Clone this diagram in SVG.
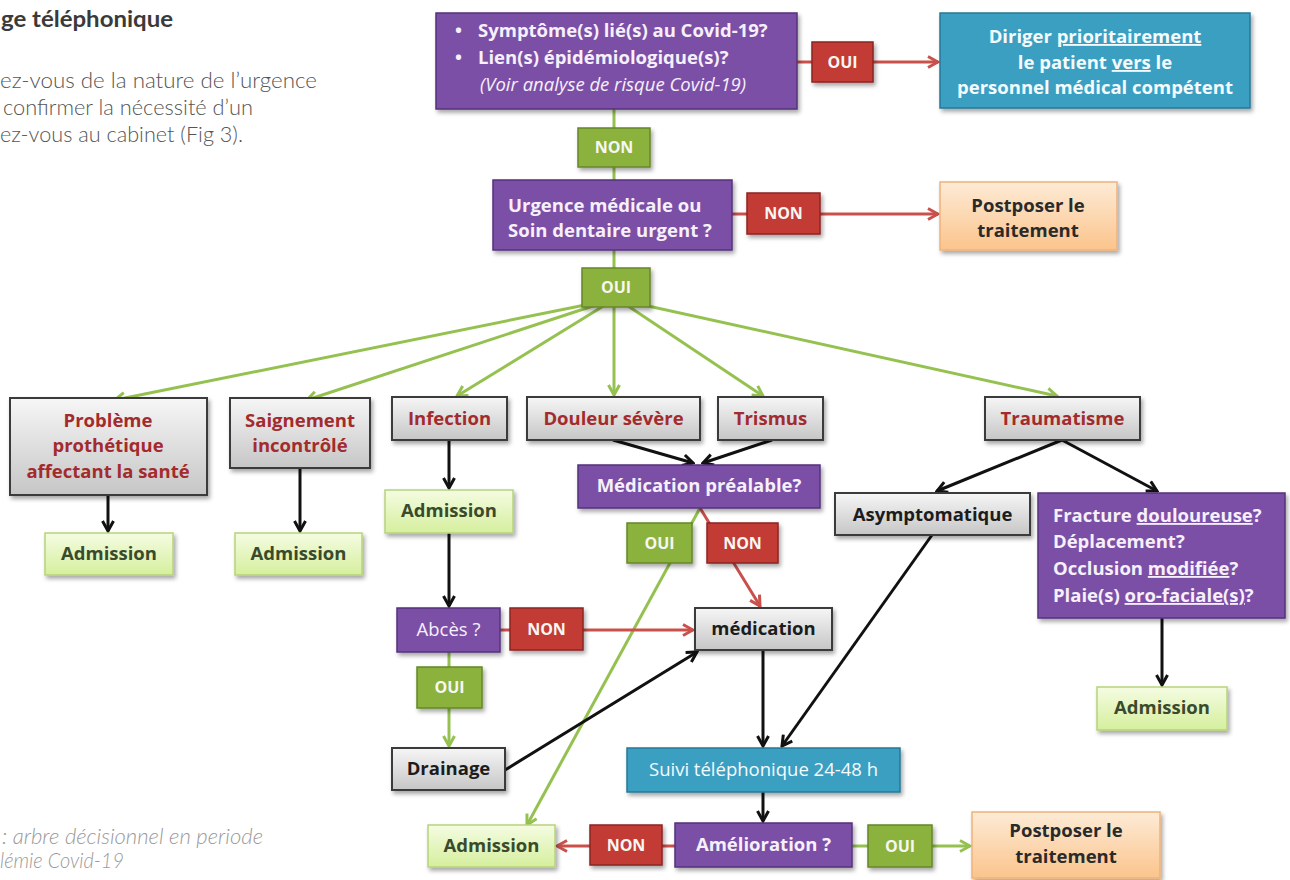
<svg xmlns="http://www.w3.org/2000/svg" width="1290" height="880" viewBox="0 0 1290 880">
  <defs>
    <style>
      .prose { font-family: Lato, "Liberation Sans", sans-serif; }
      .h { font-size: 22px; font-weight: 700; fill: #3a3a3a; }
      .body { font-size: 22px; font-weight: 300; fill: #555; }
      .cap { font-size: 21px; font-weight: 300; font-style: italic; fill: #9a9a9a; }
      .node text { font-family: "Open Sans", "Liberation Sans", sans-serif; font-weight: 700; font-size: 18.5px; }
      .node rect { filter: url(#shadow); stroke-width: 1.5; }
      .purple rect { fill: #7b4fa6; stroke: #54307c; }
      .purple text { fill: #f6f0fb; }
      .teal rect { fill: #3a9fc2; stroke: #277896; }
      .teal text { fill: #f4fbfd; }
      .grey rect { fill: url(#gGrey); stroke: #3a3a3a; stroke-width: 2; }
      .grey text { fill: #1c1c1c; }
      .cat text { fill: #a32b2d; }
      .adm rect { fill: url(#gAdm); stroke: #b6d47a; }
      .adm text { fill: #3a4a2c; }
      .org rect { fill: url(#gOrg); stroke: #efb27b; }
      .org text { fill: #2a2a2a; }
      .yes rect { fill: #8bb23c; stroke: #66862a; }
      .no rect { fill: #c23b36; stroke: #8c2521; }
      .yes text, .no text { fill: #f7f7f2; font-size: 16px; }
      .reg { font-weight: 400 !important; }
      .ul { text-decoration: underline; }
      .k { stroke: #111; stroke-width: 3; fill: none; }
      .g { stroke: #95c150; stroke-width: 3; fill: none; }
      .r { stroke: #c9504b; stroke-width: 3; fill: none; }
    </style>
    <filter id="shadow" x="-10%" y="-10%" width="125%" height="140%">
      <feDropShadow dx="2" dy="3" stdDeviation="2" flood-color="#000" flood-opacity="0.35"/>
    </filter>
    <linearGradient id="gGrey" x1="0" y1="0" x2="0" y2="1">
      <stop offset="0" stop-color="#f6f6f6"/>
      <stop offset="1" stop-color="#c6c6c6"/>
    </linearGradient>
    <linearGradient id="gAdm" x1="0" y1="0" x2="0" y2="1">
      <stop offset="0" stop-color="#f5fce2"/>
      <stop offset="1" stop-color="#d5ef9d"/>
    </linearGradient>
    <linearGradient id="gOrg" x1="0" y1="0" x2="0" y2="1">
      <stop offset="0" stop-color="#fdebd6"/>
      <stop offset="1" stop-color="#fbc48c"/>
    </linearGradient>
    <marker id="ak" viewBox="0 0 14 14" refX="12" refY="7" markerWidth="14" markerHeight="14" markerUnits="userSpaceOnUse" orient="auto">
      <path d="M2,1.5 L12,7 L2,12.5" fill="none" stroke="#111" stroke-width="3"/>
    </marker>
    <marker id="ag" viewBox="0 0 14 14" refX="12" refY="7" markerWidth="14" markerHeight="14" markerUnits="userSpaceOnUse" orient="auto">
      <path d="M2,1.5 L12,7 L2,12.5" fill="none" stroke="#95c150" stroke-width="3"/>
    </marker>
    <marker id="ar" viewBox="0 0 14 14" refX="12" refY="7" markerWidth="14" markerHeight="14" markerUnits="userSpaceOnUse" orient="auto">
      <path d="M2,1.5 L12,7 L2,12.5" fill="none" stroke="#c9504b" stroke-width="3"/>
    </marker>
  </defs>

  <rect width="1290" height="880" fill="#ffffff"/>

  <!-- surrounding article text -->
  <g class="prose">
    <text class="h" x="1" y="27" textLength="172" lengthAdjust="spacingAndGlyphs">ge téléphonique</text>
    <text class="body" x="0" y="88" textLength="317" lengthAdjust="spacingAndGlyphs">ez-vous de la nature de l’urgence</text>
    <text class="body" x="3" y="115" textLength="250" lengthAdjust="spacingAndGlyphs">confirmer la nécessité d’un</text>
    <text class="body" x="0" y="142" textLength="243" lengthAdjust="spacingAndGlyphs">ez-vous au cabinet (Fig 3).</text>
    <text class="cap" x="2" y="844" textLength="261" lengthAdjust="spacingAndGlyphs">: arbre décisionnel en periode</text>
    <text class="cap" x="0" y="868" textLength="124" lengthAdjust="spacingAndGlyphs">lémie Covid-19</text>
  </g>

  <!-- connectors -->
  <g id="connectors">
    <line class="r" x1="797" y1="62" x2="812" y2="62"/>
    <line class="r" x1="873" y1="62" x2="938" y2="62" marker-end="url(#ar)"/>
    <line class="g" x1="614" y1="107" x2="614" y2="128"/>
    <line class="g" x1="614" y1="167" x2="614" y2="180"/>
    <line class="r" x1="732" y1="214" x2="747" y2="214"/>
    <line class="r" x1="820" y1="214" x2="938" y2="214" marker-end="url(#ar)"/>
    <line class="g" x1="614" y1="250" x2="614" y2="268"/>
    <!-- urgent-care branches -->
    <line class="g" x1="600" y1="302" x2="115" y2="400" marker-end="url(#ag)"/>
    <line class="g" x1="605" y1="302" x2="307" y2="400" marker-end="url(#ag)"/>
    <line class="g" x1="610" y1="302" x2="457" y2="396" marker-end="url(#ag)"/>
    <line class="g" x1="614" y1="302" x2="614" y2="395" marker-end="url(#ag)"/>
    <line class="g" x1="622" y1="302" x2="763" y2="396" marker-end="url(#ag)"/>
    <line class="g" x1="630" y1="302" x2="1057" y2="396" marker-end="url(#ag)"/>
    <line class="k" x1="108" y1="495" x2="108" y2="531" marker-end="url(#ak)"/>
    <line class="k" x1="300" y1="468" x2="300" y2="531" marker-end="url(#ak)"/>
    <line class="k" x1="449" y1="440" x2="449" y2="488" marker-end="url(#ak)"/>
    <line class="k" x1="449" y1="533" x2="449" y2="606" marker-end="url(#ak)"/>
    <line class="k" x1="613" y1="440" x2="693" y2="463" marker-end="url(#ak)"/>
    <line class="k" x1="772" y1="440" x2="703" y2="463" marker-end="url(#ak)"/>
    <line class="g" x1="700" y1="508" x2="527" y2="825" marker-end="url(#ag)"/>
    <line class="r" x1="700" y1="508" x2="760" y2="606" marker-end="url(#ar)"/>
    <line class="r" x1="500" y1="630" x2="510" y2="630"/>
    <line class="r" x1="583" y1="630" x2="693" y2="630" marker-end="url(#ar)"/>
    <line class="g" x1="449" y1="652" x2="449" y2="667"/>
    <line class="g" x1="449" y1="708" x2="449" y2="746" marker-end="url(#ag)"/>
    <line class="k" x1="505" y1="770" x2="697" y2="652" marker-end="url(#ak)"/>
    <line class="k" x1="763" y1="650" x2="763" y2="746" marker-end="url(#ak)"/>
    <line class="k" x1="932" y1="535" x2="782" y2="746" marker-end="url(#ak)"/>
    <line class="k" x1="1062" y1="440" x2="937" y2="491" marker-end="url(#ak)"/>
    <line class="k" x1="1062" y1="440" x2="1157" y2="491" marker-end="url(#ak)"/>
    <line class="k" x1="1162" y1="618" x2="1162" y2="685" marker-end="url(#ak)"/>
    <line class="k" x1="763" y1="792" x2="763" y2="821" marker-end="url(#ak)"/>
    <line class="r" x1="675" y1="846" x2="662" y2="846"/>
    <line class="r" x1="590" y1="846" x2="557" y2="846" marker-end="url(#ar)"/>
    <line class="g" x1="852" y1="846" x2="868" y2="846"/>
    <line class="g" x1="932" y1="846" x2="970" y2="846" marker-end="url(#ag)"/>
  </g>

  <!-- nodes -->
  <g id="covid-check" class="node purple">
    <rect x="436" y="13" width="361" height="96"/>
    <text x="455" y="37">•</text>
    <text x="478" y="37">Symptôme(s) lié(s) au Covid-19?</text>
    <text x="455" y="64">•</text>
    <text x="478" y="64">Lien(s) épidémiologique(s)?</text>
    <text x="480" y="91" class="reg" font-style="italic" font-size="17">(Voir analyse de risque Covid-19)</text>
  </g>
  <g id="covid-oui" class="node no">
    <rect x="812" y="42" width="61" height="40"/>
    <text x="842.5" y="68" text-anchor="middle">OUI</text>
  </g>
  <g id="refer" class="node teal">
    <rect x="940" y="13" width="310" height="95"/>
    <text x="1095" y="43" text-anchor="middle">Diriger <tspan class="ul">prioritairement</tspan></text>
    <text x="1095" y="69" text-anchor="middle">le patient <tspan class="ul">vers</tspan> le</text>
    <text x="1095" y="94" text-anchor="middle">personnel médical compétent</text>
  </g>
  <g id="covid-non" class="node yes">
    <rect x="578" y="128" width="72" height="39"/>
    <text x="614" y="153" text-anchor="middle">NON</text>
  </g>
  <g id="urgence" class="node purple">
    <rect x="493" y="180" width="239" height="70"/>
    <text x="508" y="212">Urgence médicale ou</text>
    <text x="508" y="237">Soin dentaire urgent ?</text>
  </g>
  <g id="urgence-non" class="node no">
    <rect x="747" y="193" width="73" height="41"/>
    <text x="783.5" y="219" text-anchor="middle">NON</text>
  </g>
  <g id="postpone-1" class="node org">
    <rect x="940" y="182" width="177" height="68"/>
    <text x="1028" y="212" text-anchor="middle">Postposer le</text>
    <text x="1028" y="237" text-anchor="middle">traitement</text>
  </g>
  <g id="urgence-oui" class="node yes">
    <rect x="582" y="268" width="68" height="39"/>
    <text x="616" y="293" text-anchor="middle">OUI</text>
  </g>

  <g id="prothese" class="node grey cat">
    <rect x="10" y="398" width="197" height="97"/>
    <text x="108" y="427" text-anchor="middle">Problème</text>
    <text x="108" y="452" text-anchor="middle">prothétique</text>
    <text x="108" y="478" text-anchor="middle">affectant la santé</text>
  </g>
  <g id="saignement" class="node grey cat">
    <rect x="230" y="398" width="140" height="70"/>
    <text x="300" y="427" text-anchor="middle">Saignement</text>
    <text x="300" y="452" text-anchor="middle">incontrôlé</text>
  </g>
  <g id="infection" class="node grey cat">
    <rect x="392" y="397" width="115" height="43"/>
    <text x="449.5" y="425" text-anchor="middle">Infection</text>
  </g>
  <g id="douleur" class="node grey cat">
    <rect x="527" y="397" width="173" height="43"/>
    <text x="613.5" y="425" text-anchor="middle">Douleur sévère</text>
  </g>
  <g id="trismus" class="node grey cat">
    <rect x="718" y="397" width="105" height="43"/>
    <text x="770.5" y="425" text-anchor="middle">Trismus</text>
  </g>
  <g id="traumatisme" class="node grey cat">
    <rect x="985" y="397" width="155" height="43"/>
    <text x="1062.5" y="425" text-anchor="middle">Traumatisme</text>
  </g>

  <g id="medication-prealable" class="node purple">
    <rect x="578" y="465" width="242" height="43"/>
    <text x="699" y="492" text-anchor="middle">Médication préalable?</text>
  </g>
  <g id="admission-infection" class="node adm">
    <rect x="385" y="490" width="128" height="43"/>
    <text x="449" y="517" text-anchor="middle">Admission</text>
  </g>
  <g id="admission-prothese" class="node adm">
    <rect x="45" y="533" width="128" height="42"/>
    <text x="109" y="560" text-anchor="middle">Admission</text>
  </g>
  <g id="admission-saignement" class="node adm">
    <rect x="235" y="533" width="127" height="42"/>
    <text x="298.5" y="560" text-anchor="middle">Admission</text>
  </g>
  <g id="asymptomatique" class="node grey">
    <rect x="835" y="493" width="195" height="42"/>
    <text x="932.5" y="521" text-anchor="middle">Asymptomatique</text>
  </g>
  <g id="fracture" class="node purple">
    <rect x="1038" y="493" width="247" height="125"/>
    <text x="1053" y="522">Fracture <tspan class="ul">douloureuse</tspan>?</text>
    <text x="1053" y="548">Déplacement?</text>
    <text x="1053" y="575">Occlusion <tspan class="ul">modifiée</tspan>?</text>
    <text x="1053" y="602">Plaie(s) <tspan class="ul">oro-faciale(s)</tspan>?</text>
  </g>
  <g id="premed-oui" class="node yes">
    <rect x="627" y="523" width="65" height="40"/>
    <text x="659.5" y="549" text-anchor="middle">OUI</text>
  </g>
  <g id="premed-non" class="node no">
    <rect x="707" y="523" width="71" height="40"/>
    <text x="742.5" y="549" text-anchor="middle">NON</text>
  </g>
  <g id="abces" class="node purple">
    <rect x="397" y="608" width="103" height="44"/>
    <text x="448.5" y="636" text-anchor="middle" class="reg">Abcès ?</text>
  </g>
  <g id="abces-non" class="node no">
    <rect x="510" y="608" width="73" height="42"/>
    <text x="546.5" y="635" text-anchor="middle">NON</text>
  </g>
  <g id="medication" class="node grey">
    <rect x="695" y="608" width="137" height="42"/>
    <text x="763.5" y="635" text-anchor="middle">médication</text>
  </g>
  <g id="abces-oui" class="node yes">
    <rect x="417" y="667" width="65" height="41"/>
    <text x="449.5" y="693" text-anchor="middle">OUI</text>
  </g>
  <g id="admission-fracture" class="node adm">
    <rect x="1097" y="687" width="130" height="43"/>
    <text x="1162" y="714" text-anchor="middle">Admission</text>
  </g>
  <g id="drainage" class="node grey">
    <rect x="392" y="748" width="113" height="42"/>
    <text x="448.5" y="775" text-anchor="middle">Drainage</text>
  </g>
  <g id="suivi" class="node teal">
    <rect x="627" y="748" width="273" height="44"/>
    <text x="763.5" y="776" text-anchor="middle" class="reg">Suivi téléphonique 24-48 h</text>
  </g>
  <g id="admission-final" class="node adm">
    <rect x="428" y="825" width="127" height="42"/>
    <text x="491.5" y="852" text-anchor="middle">Admission</text>
  </g>
  <g id="amelioration-non" class="node no">
    <rect x="590" y="825" width="72" height="40"/>
    <text x="626" y="851" text-anchor="middle">NON</text>
  </g>
  <g id="amelioration" class="node purple">
    <rect x="675" y="823" width="177" height="44"/>
    <text x="763.5" y="851" text-anchor="middle">Amélioration ?</text>
  </g>
  <g id="amelioration-oui" class="node yes">
    <rect x="868" y="825" width="64" height="42"/>
    <text x="900" y="852" text-anchor="middle">OUI</text>
  </g>
  <g id="postpone-2" class="node org">
    <rect x="972" y="812" width="188" height="66"/>
    <text x="1066" y="837" text-anchor="middle">Postposer le</text>
    <text x="1066" y="863" text-anchor="middle">traitement</text>
  </g>
</svg>
